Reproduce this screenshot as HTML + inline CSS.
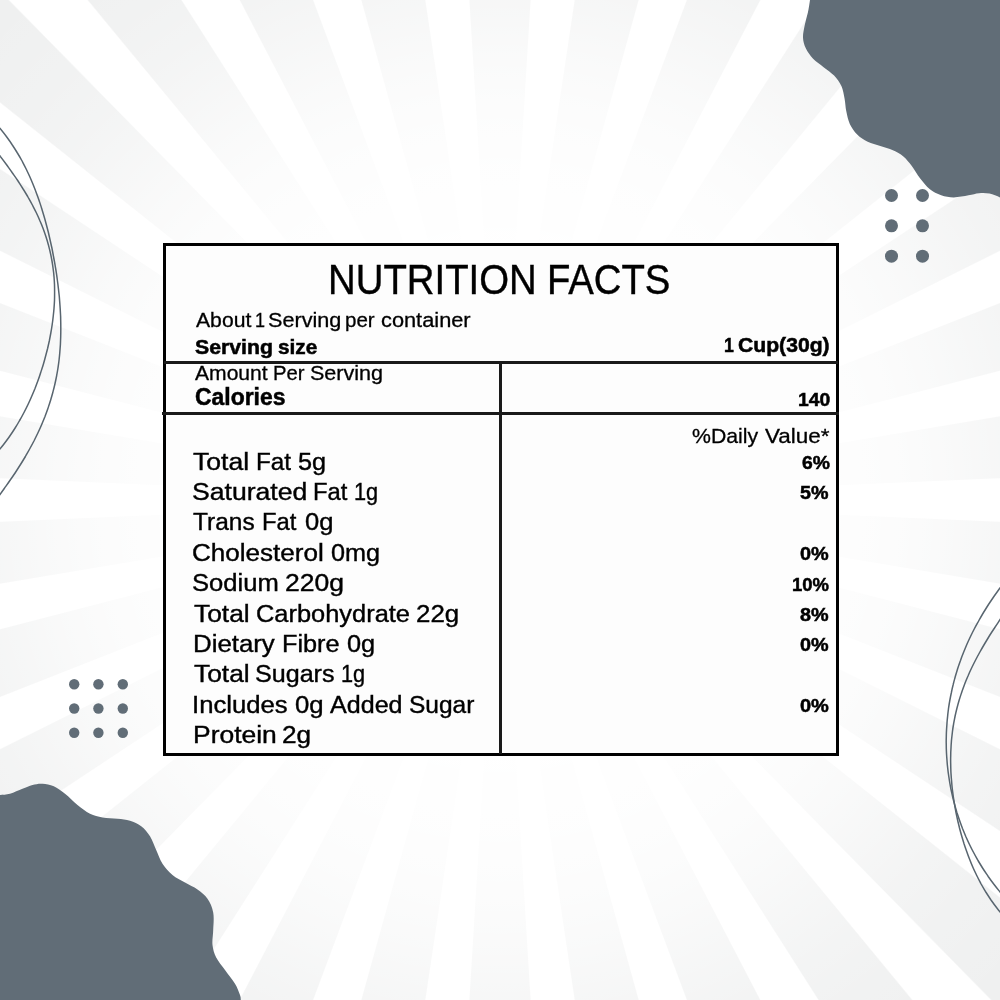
<!DOCTYPE html>
<html><head><meta charset="utf-8"><title>Nutrition Facts</title>
<style>
html,body{margin:0;padding:0;}
body{width:1000px;height:1000px;overflow:hidden;position:relative;background:#fff;font-family:"Liberation Sans",sans-serif;color:#000;}
#bg{position:absolute;left:0;top:0;width:1000px;height:1000px;
background:
 radial-gradient(circle 700px at 500px 500px, rgba(255,255,255,1) 0, rgba(255,255,255,1) 220px, rgba(255,255,255,0.95) 300px, rgba(255,255,255,0.89) 350px, rgba(255,255,255,0.80) 400px, rgba(255,255,255,0.65) 450px, rgba(255,255,255,0.47) 500px, rgba(255,255,255,0.29) 550px, rgba(255,255,255,0.16) 600px, rgba(255,255,255,0) 700px),
 repeating-conic-gradient(from -3.5deg at 500px 500px, #f7f7f7 0deg, #eff0f0 0.06deg, #eff0f0 6.94deg, #ffffff 7.06deg, #ffffff 11.94deg, #f7f7f7 12deg);}
svg{position:absolute;left:0;top:0;}
.ln{position:absolute;background:#000;}
#txt{position:absolute;left:0;top:0;width:1000px;height:1000px;will-change:transform;}
.t{position:absolute;line-height:1;white-space:nowrap;transform-origin:0 0;display:block;}
</style></head><body>
<div id="bg"></div>
<svg width="1000" height="1000" viewBox="0 0 1000 1000">
<path d="M810.0,-5.0 C810.0,-4.2 810.4,-2.9 810.0,0.0 C809.6,2.9 808.8,8.4 807.9,12.6 C807.0,16.8 805.5,21.0 804.7,25.2 C803.9,29.4 802.8,33.9 803.0,37.8 C803.2,41.6 804.1,44.8 805.8,48.3 C807.5,51.8 810.1,55.6 813.1,58.8 C816.1,61.9 820.1,64.4 823.6,67.2 C827.1,70.0 831.1,72.4 834.1,75.6 C837.1,78.8 839.6,82.2 841.4,86.1 C843.1,89.9 843.8,94.5 844.6,98.7 C845.4,102.9 845.4,107.1 846.3,111.3 C847.2,115.5 848.0,120.1 849.8,123.9 C851.6,127.8 854.2,131.4 857.2,134.4 C860.2,137.4 863.9,139.8 867.7,141.8 C871.6,143.7 876.1,144.5 880.3,145.9 C884.5,147.3 889.0,148.4 892.9,150.2 C896.8,151.9 900.2,153.8 903.4,156.4 C906.5,159.1 909.0,162.2 911.8,165.9 C914.6,169.6 917.2,174.7 920.2,178.5 C923.2,182.3 926.1,186.2 929.6,189.0 C933.1,191.8 937.2,193.9 941.2,195.3 C945.2,196.7 949.2,197.4 953.8,197.4 C958.3,197.4 964.3,196.0 968.5,195.3 C972.7,194.6 975.5,193.5 979.0,193.2 C982.5,192.9 986.0,192.9 989.5,193.6 C993.0,194.3 997.2,196.3 1000.0,197.4 C1002.8,198.5 1005.0,199.6 1006.0,200.0 L1010,-10 Z" fill="#616d77"/>
<path d="M-6.0,795.0 C-5.0,795.0 -2.7,795.2 0.0,795.0 C2.7,794.8 6.2,794.8 10.0,793.8 C13.8,792.7 18.8,790.2 22.5,788.8 C26.2,787.3 29.2,785.8 32.5,785.0 C35.8,784.2 39.0,783.5 42.5,783.8 C46.0,784.0 50.0,784.6 53.8,786.2 C57.5,787.9 61.0,790.6 65.0,793.8 C69.0,796.9 73.3,801.7 77.5,805.0 C81.7,808.3 85.8,811.7 90.0,813.8 C94.2,815.8 97.9,816.7 102.5,817.5 C107.1,818.3 112.9,818.2 117.5,818.8 C122.1,819.3 126.0,819.5 130.0,820.8 C134.0,822.0 137.9,823.7 141.2,826.2 C144.6,828.8 147.5,832.3 150.0,836.2 C152.5,840.2 154.2,845.4 156.2,850.0 C158.3,854.6 159.8,859.6 162.5,863.8 C165.2,867.9 168.8,871.9 172.5,875.0 C176.2,878.1 180.8,880.1 185.0,882.5 C189.2,884.9 193.8,886.8 197.5,889.5 C201.2,892.2 204.9,894.9 207.5,898.8 C210.1,902.6 212.3,907.3 213.2,912.5 C214.2,917.7 213.4,924.6 213.2,930.0 C213.1,935.4 212.0,940.4 212.5,945.0 C213.0,949.6 214.2,953.3 216.2,957.5 C218.3,961.7 221.9,965.6 225.0,970.0 C228.1,974.4 232.5,979.6 235.0,983.8 C237.5,987.9 239.0,992.3 240.0,995.0 C241.0,997.7 240.6,998.2 240.8,1000.0 C240.9,1001.8 241.0,1005.0 241.0,1006.0 L-10,1010 Z" fill="#616d77"/>
<g fill="#616d77"><circle cx="891.5" cy="195.5" r="6.5"/><circle cx="891.5" cy="225.8" r="6.5"/><circle cx="891.5" cy="256.2" r="6.5"/><circle cx="922.5" cy="195.5" r="6.5"/><circle cx="922.5" cy="225.8" r="6.5"/><circle cx="922.5" cy="256.2" r="6.5"/><circle cx="74.2" cy="684.2" r="5.2"/><circle cx="74.2" cy="708.5" r="5.2"/><circle cx="74.2" cy="732.7" r="5.2"/><circle cx="98.4" cy="684.2" r="5.2"/><circle cx="98.4" cy="708.5" r="5.2"/><circle cx="98.4" cy="732.7" r="5.2"/><circle cx="122.8" cy="684.2" r="5.2"/><circle cx="122.8" cy="708.5" r="5.2"/><circle cx="122.8" cy="732.7" r="5.2"/></g>
<g fill="none" stroke="#58656f" stroke-width="1.5">
<path d="M-6.9,120.5 C-5.8,121.8 -2.1,125.8 0.1,128.5 C2.3,131.2 4.4,133.8 6.4,136.5 C8.4,139.2 10.3,141.8 12.0,144.5 C13.8,147.2 15.5,149.8 17.1,152.5 C18.8,155.2 20.3,157.8 21.8,160.5 C23.2,163.2 24.6,165.8 25.9,168.5 C27.2,171.2 28.5,173.8 29.7,176.5 C30.9,179.2 32.0,181.8 33.1,184.5 C34.2,187.2 35.2,189.8 36.2,192.5 C37.2,195.2 38.2,197.8 39.1,200.5 C40.0,203.2 40.9,205.8 41.7,208.5 C42.5,211.2 43.3,213.8 44.1,216.5 C44.9,219.2 45.6,221.8 46.3,224.5 C47.0,227.2 47.7,229.8 48.4,232.5 C49.0,235.2 49.6,237.8 50.2,240.5 C50.8,243.2 51.4,245.8 52.0,248.5 C52.5,251.2 53.0,253.8 53.5,256.5 C54.0,259.2 54.5,261.8 55.0,264.5 C55.4,267.2 55.9,269.8 56.3,272.5 C56.7,275.2 57.1,277.8 57.4,280.5 C57.8,283.2 58.1,285.8 58.4,288.5 C58.7,291.2 59.0,293.8 59.3,296.5 C59.5,299.2 59.7,301.8 59.9,304.5 C60.1,307.2 60.3,309.8 60.4,312.5 C60.6,315.2 60.7,317.8 60.7,320.5 C60.8,323.2 60.8,325.8 60.8,328.5 C60.8,331.2 60.8,333.8 60.7,336.5 C60.6,339.2 60.5,341.8 60.4,344.5 C60.2,347.2 60.0,349.8 59.8,352.5 C59.6,355.2 59.3,357.8 59.0,360.5 C58.7,363.2 58.3,365.8 57.9,368.5 C57.5,371.2 57.0,373.8 56.5,376.5 C56.0,379.2 55.4,381.8 54.8,384.5 C54.2,387.2 53.5,389.8 52.8,392.5 C52.1,395.2 51.3,397.8 50.5,400.5 C49.7,403.2 48.8,405.8 47.9,408.5 C47.0,411.2 46.0,413.8 45.0,416.5 C43.9,419.2 42.8,421.8 41.7,424.5 C40.6,427.2 39.4,429.8 38.1,432.5 C36.8,435.2 35.5,437.8 34.2,440.5 C32.8,443.2 31.4,445.8 29.9,448.5 C28.5,451.2 26.9,453.8 25.4,456.5 C23.8,459.2 22.2,461.8 20.5,464.5 C18.8,467.2 17.1,469.8 15.4,472.5 C13.6,475.2 11.8,477.8 9.9,480.5 C8.1,483.2 6.2,485.8 4.3,488.5 C2.4,491.2 -0.6,495.2 -1.6,496.5"/><path d="M-5.9,148.5 C-4.8,149.8 -1.7,153.8 0.3,156.5 C2.4,159.2 4.4,161.8 6.4,164.5 C8.3,167.2 10.3,169.8 12.1,172.5 C14.0,175.2 15.9,177.8 17.7,180.5 C19.4,183.2 21.2,185.8 22.8,188.5 C24.5,191.2 26.1,193.8 27.7,196.5 C29.2,199.2 30.7,201.8 32.1,204.5 C33.5,207.2 34.9,209.8 36.2,212.5 C37.5,215.2 38.7,217.8 39.8,220.5 C41.0,223.2 42.1,225.8 43.1,228.5 C44.1,231.2 45.0,233.8 45.9,236.5 C46.8,239.2 47.6,241.8 48.3,244.5 C49.0,247.2 49.7,249.8 50.3,252.5 C50.9,255.2 51.4,257.8 51.9,260.5 C52.4,263.2 52.8,265.8 53.1,268.5 C53.5,271.2 53.8,273.8 54.0,276.5 C54.2,279.2 54.4,281.8 54.5,284.5 C54.6,287.2 54.6,289.8 54.6,292.5 C54.6,295.2 54.6,297.8 54.5,300.5 C54.4,303.2 54.2,305.8 54.0,308.5 C53.8,311.2 53.5,313.8 53.2,316.5 C52.9,319.2 52.6,321.8 52.2,324.5 C51.8,327.2 51.4,329.8 50.9,332.5 C50.4,335.2 49.9,337.8 49.4,340.5 C48.8,343.2 48.2,345.8 47.6,348.5 C46.9,351.2 46.2,353.8 45.5,356.5 C44.8,359.2 44.1,361.8 43.3,364.5 C42.5,367.2 41.6,369.8 40.7,372.5 C39.9,375.2 39.0,377.8 38.0,380.5 C37.0,383.2 36.0,385.8 35.0,388.5 C33.9,391.2 32.8,393.8 31.6,396.5 C30.5,399.2 29.3,401.8 28.0,404.5 C26.7,407.2 25.4,409.8 24.0,412.5 C22.6,415.2 21.2,417.8 19.6,420.5 C18.1,423.2 16.5,425.8 14.8,428.5 C13.1,431.2 11.4,433.8 9.5,436.5 C7.6,439.2 5.7,441.8 3.6,444.5 C1.5,447.2 -1.9,451.2 -2.9,452.5"/><path d="M1005.7,580.5 C1004.7,581.8 1001.6,585.8 999.6,588.5 C997.7,591.2 995.8,593.8 993.9,596.5 C992.1,599.2 990.3,601.8 988.5,604.5 C986.8,607.2 985.2,609.8 983.5,612.5 C981.9,615.2 980.4,617.8 978.9,620.5 C977.4,623.2 975.9,625.8 974.5,628.5 C973.1,631.2 971.8,633.8 970.5,636.5 C969.2,639.2 968.0,641.8 966.8,644.5 C965.7,647.2 964.6,649.8 963.5,652.5 C962.4,655.2 961.4,657.8 960.5,660.5 C959.5,663.2 958.6,665.8 957.7,668.5 C956.9,671.2 956.1,673.8 955.3,676.5 C954.6,679.2 953.8,681.8 953.2,684.5 C952.5,687.2 951.9,689.8 951.4,692.5 C950.8,695.2 950.3,697.8 949.8,700.5 C949.3,703.2 948.9,705.8 948.5,708.5 C948.2,711.2 947.8,713.8 947.6,716.5 C947.3,719.2 947.0,721.8 946.9,724.5 C946.7,727.2 946.5,729.8 946.4,732.5 C946.3,735.2 946.3,737.8 946.2,740.5 C946.2,743.2 946.3,745.8 946.3,748.5 C946.4,751.2 946.5,753.8 946.7,756.5 C946.9,759.2 947.1,761.8 947.3,764.5 C947.6,767.2 947.9,769.8 948.2,772.5 C948.6,775.2 949.0,777.8 949.4,780.5 C949.8,783.2 950.3,785.8 950.8,788.5 C951.4,791.2 952.0,793.8 952.6,796.5 C953.2,799.2 953.9,801.8 954.6,804.5 C955.3,807.2 956.1,809.8 956.9,812.5 C957.8,815.2 958.6,817.8 959.6,820.5 C960.5,823.2 961.5,825.8 962.5,828.5 C963.6,831.2 964.7,833.8 965.8,836.5 C967.0,839.2 968.2,841.8 969.5,844.5 C970.8,847.2 972.1,849.8 973.6,852.5 C975.0,855.2 976.5,857.8 978.0,860.5 C979.6,863.2 981.2,865.8 982.9,868.5 C984.6,871.2 986.4,873.8 988.2,876.5 C990.1,879.2 992.0,881.8 994.1,884.5 C996.1,887.2 999.4,891.2 1000.4,892.5"/><path d="M1005.2,612.0 C1004.3,613.3 1001.6,617.3 999.8,620.0 C998.0,622.7 996.2,625.3 994.5,628.0 C992.7,630.7 991.0,633.3 989.3,636.0 C987.7,638.7 986.1,641.3 984.5,644.0 C982.9,646.7 981.4,649.3 979.9,652.0 C978.4,654.7 977.0,657.3 975.6,660.0 C974.2,662.7 972.9,665.3 971.6,668.0 C970.3,670.7 969.1,673.3 968.0,676.0 C966.8,678.7 965.7,681.3 964.7,684.0 C963.7,686.7 962.7,689.3 961.8,692.0 C960.9,694.7 960.0,697.3 959.2,700.0 C958.4,702.7 957.7,705.3 957.0,708.0 C956.3,710.7 955.7,713.3 955.1,716.0 C954.6,718.7 954.0,721.3 953.6,724.0 C953.1,726.7 952.7,729.3 952.4,732.0 C952.1,734.7 951.8,737.3 951.5,740.0 C951.3,742.7 951.1,745.3 951.0,748.0 C950.8,750.7 950.7,753.3 950.7,756.0 C950.6,758.7 950.6,761.3 950.7,764.0 C950.7,766.7 950.8,769.3 950.9,772.0 C951.1,774.7 951.2,777.3 951.5,780.0 C951.7,782.7 951.9,785.3 952.2,788.0 C952.5,790.7 952.9,793.3 953.2,796.0 C953.6,798.7 954.0,801.3 954.5,804.0 C954.9,806.7 955.4,809.3 955.9,812.0 C956.5,814.7 957.0,817.3 957.6,820.0 C958.2,822.7 958.9,825.3 959.5,828.0 C960.2,830.7 960.9,833.3 961.7,836.0 C962.5,838.7 963.3,841.3 964.1,844.0 C965.0,846.7 965.9,849.3 966.9,852.0 C967.8,854.7 968.8,857.3 969.9,860.0 C970.9,862.7 972.0,865.3 973.2,868.0 C974.4,870.7 975.7,873.3 977.0,876.0 C978.3,878.7 979.7,881.3 981.1,884.0 C982.6,886.7 984.2,889.3 985.8,892.0 C987.5,894.7 989.2,897.3 991.0,900.0 C992.9,902.7 994.8,905.3 996.9,908.0 C998.9,910.7 1002.3,914.7 1003.4,916.0"/>
</g>
</svg>
<div class="ln" style="left:163px;top:243px;width:676px;height:512.5px;background:#fdfdfd"></div>
<div class="ln" style="left:163px;top:243px;width:676px;height:3px"></div>
<div class="ln" style="left:163px;top:752.5px;width:676px;height:3px"></div>
<div class="ln" style="left:163px;top:243px;width:3px;height:512.5px"></div>
<div class="ln" style="left:836px;top:243px;width:3px;height:512.5px"></div>
<div class="ln" style="left:163.7px;top:361.2px;width:674.1px;height:2.7px;background:#1a1a1a"></div>
<div class="ln" style="left:162.2px;top:412.2px;width:676.4px;height:2.7px;background:#1a1a1a"></div>
<div class="ln" style="left:499.1px;top:362px;width:2.7px;height:392px;background:#1a1a1a"></div>
<div id="txt">
<span class="t" style="left:328.22px;top:258.03px;font-size:42.56px;font-weight:400;-webkit-text-stroke:0.4px #000;transform:scaleX(0.9012)">NUTRITION</span>
<span class="t" style="left:547.21px;top:258.03px;font-size:42.56px;font-weight:400;-webkit-text-stroke:0.4px #000;transform:scaleX(0.9000)">FACTS</span>
<span class="t" style="left:196.09px;top:310.36px;font-size:20.04px;font-weight:400;-webkit-text-stroke:0.3px #000;transform:scaleX(1.0567)">About</span>
<span class="t" style="left:255.31px;top:310.36px;font-size:20.04px;font-weight:400;-webkit-text-stroke:0.3px #000;transform:scaleX(0.9000)">1</span>
<span class="t" style="left:268.41px;top:310.36px;font-size:20.04px;font-weight:400;-webkit-text-stroke:0.3px #000;transform:scaleX(1.0797)">Serving</span>
<span class="t" style="left:345.23px;top:310.36px;font-size:20.04px;font-weight:400;-webkit-text-stroke:0.3px #000;transform:scaleX(1.0242)">per</span>
<span class="t" style="left:381.00px;top:310.36px;font-size:20.04px;font-weight:400;-webkit-text-stroke:0.3px #000;transform:scaleX(1.0875)">container</span>
<span class="t" style="left:194.96px;top:337.73px;font-size:19.61px;font-weight:700;-webkit-text-stroke:0.5px #000;transform:scaleX(1.0839)">Serving</span>
<span class="t" style="left:277.91px;top:337.73px;font-size:19.61px;font-weight:700;-webkit-text-stroke:0.5px #000;transform:scaleX(1.0604)">size</span>
<span class="t" style="left:723.92px;top:336.06px;font-size:19.69px;font-weight:700;-webkit-text-stroke:0.5px #000;transform:scaleX(0.9000)">1</span>
<span class="t" style="left:738.09px;top:336.06px;font-size:19.69px;font-weight:700;-webkit-text-stroke:0.5px #000;transform:scaleX(1.0741)">Cup(30g)</span>
<span class="t" style="left:195.19px;top:364.31px;font-size:19.75px;font-weight:400;-webkit-text-stroke:0.3px #000;transform:scaleX(1.0678)">Amount</span>
<span class="t" style="left:273.48px;top:364.31px;font-size:19.75px;font-weight:400;-webkit-text-stroke:0.3px #000;transform:scaleX(1.0257)">Per</span>
<span class="t" style="left:309.51px;top:364.31px;font-size:19.75px;font-weight:400;-webkit-text-stroke:0.3px #000;transform:scaleX(1.0904)">Serving</span>
<span class="t" style="left:194.61px;top:386.40px;font-size:23.53px;font-weight:700;-webkit-text-stroke:0.5px #000;transform:scaleX(0.9741)">Calories</span>
<span class="t" style="left:797.85px;top:389.75px;font-size:18.99px;font-weight:700;-webkit-text-stroke:0.5px #000;transform:scaleX(1.0175)">140</span>
<span class="t" style="left:691.88px;top:426.35px;font-size:20.77px;font-weight:400;-webkit-text-stroke:0.3px #000;transform:scaleX(1.0230)">%Daily</span>
<span class="t" style="left:764.75px;top:426.35px;font-size:20.77px;font-weight:400;-webkit-text-stroke:0.3px #000;transform:scaleX(1.0834)">Value*</span>
<span class="t" style="left:193.20px;top:449.51px;font-size:24.11px;font-weight:400;-webkit-text-stroke:0.4px #000;transform:scaleX(1.1013)">Total</span>
<span class="t" style="left:255.66px;top:449.51px;font-size:24.11px;font-weight:400;-webkit-text-stroke:0.4px #000;transform:scaleX(1.0072)">Fat</span>
<span class="t" style="left:297.95px;top:449.51px;font-size:24.11px;font-weight:400;-webkit-text-stroke:0.4px #000;transform:scaleX(1.0474)">5g</span>
<span class="t" style="left:191.79px;top:479.91px;font-size:24.11px;font-weight:400;-webkit-text-stroke:0.4px #000;transform:scaleX(1.1033)">Saturated</span>
<span class="t" style="left:313.00px;top:479.91px;font-size:24.11px;font-weight:400;-webkit-text-stroke:0.4px #000;transform:scaleX(0.9863)">Fat</span>
<span class="t" style="left:353.99px;top:479.91px;font-size:24.11px;font-weight:400;-webkit-text-stroke:0.4px #000;transform:scaleX(0.9000)">1g</span>
<span class="t" style="left:193.23px;top:510.31px;font-size:24.11px;font-weight:400;-webkit-text-stroke:0.4px #000;transform:scaleX(1.0148)">Trans</span>
<span class="t" style="left:261.90px;top:510.31px;font-size:24.11px;font-weight:400;-webkit-text-stroke:0.4px #000;transform:scaleX(0.9863)">Fat</span>
<span class="t" style="left:305.14px;top:510.31px;font-size:24.11px;font-weight:400;-webkit-text-stroke:0.4px #000;transform:scaleX(1.0597)">0g</span>
<span class="t" style="left:192.11px;top:540.71px;font-size:24.11px;font-weight:400;-webkit-text-stroke:0.4px #000;transform:scaleX(1.0806)">Cholesterol</span>
<span class="t" style="left:331.25px;top:540.71px;font-size:24.11px;font-weight:400;-webkit-text-stroke:0.4px #000;transform:scaleX(1.0465)">0mg</span>
<span class="t" style="left:192.04px;top:571.11px;font-size:24.11px;font-weight:400;-webkit-text-stroke:0.4px #000;transform:scaleX(1.0618)">Sodium</span>
<span class="t" style="left:284.93px;top:571.11px;font-size:24.11px;font-weight:400;-webkit-text-stroke:0.4px #000;transform:scaleX(1.1001)">220g</span>
<span class="t" style="left:193.61px;top:601.51px;font-size:24.11px;font-weight:400;-webkit-text-stroke:0.4px #000;transform:scaleX(1.0931)">Total</span>
<span class="t" style="left:255.54px;top:601.51px;font-size:24.11px;font-weight:400;-webkit-text-stroke:0.4px #000;transform:scaleX(1.0539)">Carbohydrate</span>
<span class="t" style="left:416.16px;top:601.51px;font-size:24.11px;font-weight:400;-webkit-text-stroke:0.4px #000;transform:scaleX(1.0732)">22g</span>
<span class="t" style="left:192.55px;top:631.91px;font-size:24.11px;font-weight:400;-webkit-text-stroke:0.4px #000;transform:scaleX(1.0709)">Dietary</span>
<span class="t" style="left:282.19px;top:631.91px;font-size:24.11px;font-weight:400;-webkit-text-stroke:0.4px #000;transform:scaleX(1.0474)">Fibre</span>
<span class="t" style="left:347.25px;top:631.91px;font-size:24.11px;font-weight:400;-webkit-text-stroke:0.4px #000;transform:scaleX(1.0516)">0g</span>
<span class="t" style="left:193.61px;top:662.31px;font-size:24.11px;font-weight:400;-webkit-text-stroke:0.4px #000;transform:scaleX(1.0931)">Total</span>
<span class="t" style="left:254.87px;top:662.31px;font-size:24.11px;font-weight:400;-webkit-text-stroke:0.4px #000;transform:scaleX(1.0408)">Sugars</span>
<span class="t" style="left:341.04px;top:662.31px;font-size:24.11px;font-weight:400;-webkit-text-stroke:0.4px #000;transform:scaleX(0.9000)">1g</span>
<span class="t" style="left:192.10px;top:692.71px;font-size:24.11px;font-weight:400;-webkit-text-stroke:0.4px #000;transform:scaleX(1.0652)">Includes</span>
<span class="t" style="left:295.03px;top:692.71px;font-size:24.11px;font-weight:400;-webkit-text-stroke:0.4px #000;transform:scaleX(1.0677)">0g</span>
<span class="t" style="left:330.22px;top:692.71px;font-size:24.11px;font-weight:400;-webkit-text-stroke:0.4px #000;transform:scaleX(1.0403)">Added</span>
<span class="t" style="left:409.10px;top:692.71px;font-size:24.11px;font-weight:400;-webkit-text-stroke:0.4px #000;transform:scaleX(1.0163)">Sugar</span>
<span class="t" style="left:192.51px;top:723.11px;font-size:24.11px;font-weight:400;-webkit-text-stroke:0.4px #000;transform:scaleX(1.0963)">Protein</span>
<span class="t" style="left:281.74px;top:723.11px;font-size:24.11px;font-weight:400;-webkit-text-stroke:0.4px #000;transform:scaleX(1.0868)">2g</span>
<span class="t" style="left:801.62px;top:454.07px;font-size:18.85px;font-weight:700;-webkit-text-stroke:0.5px #000;transform:scaleX(1.0254)">6%</span>
<span class="t" style="left:800.28px;top:484.47px;font-size:18.85px;font-weight:700;-webkit-text-stroke:0.5px #000;transform:scaleX(1.0453)">5%</span>
<span class="t" style="left:799.76px;top:545.27px;font-size:18.85px;font-weight:700;-webkit-text-stroke:0.5px #000;transform:scaleX(1.0533)">0%</span>
<span class="t" style="left:791.60px;top:575.67px;font-size:18.85px;font-weight:700;-webkit-text-stroke:0.5px #000;transform:scaleX(0.9794)">10%</span>
<span class="t" style="left:799.86px;top:606.07px;font-size:18.85px;font-weight:700;-webkit-text-stroke:0.5px #000;transform:scaleX(1.0497)">8%</span>
<span class="t" style="left:800.46px;top:636.47px;font-size:18.85px;font-weight:700;-webkit-text-stroke:0.5px #000;transform:scaleX(1.0495)">0%</span>
<span class="t" style="left:800.16px;top:697.27px;font-size:18.85px;font-weight:700;-webkit-text-stroke:0.5px #000;transform:scaleX(1.0608)">0%</span>
</div>
</body></html>
